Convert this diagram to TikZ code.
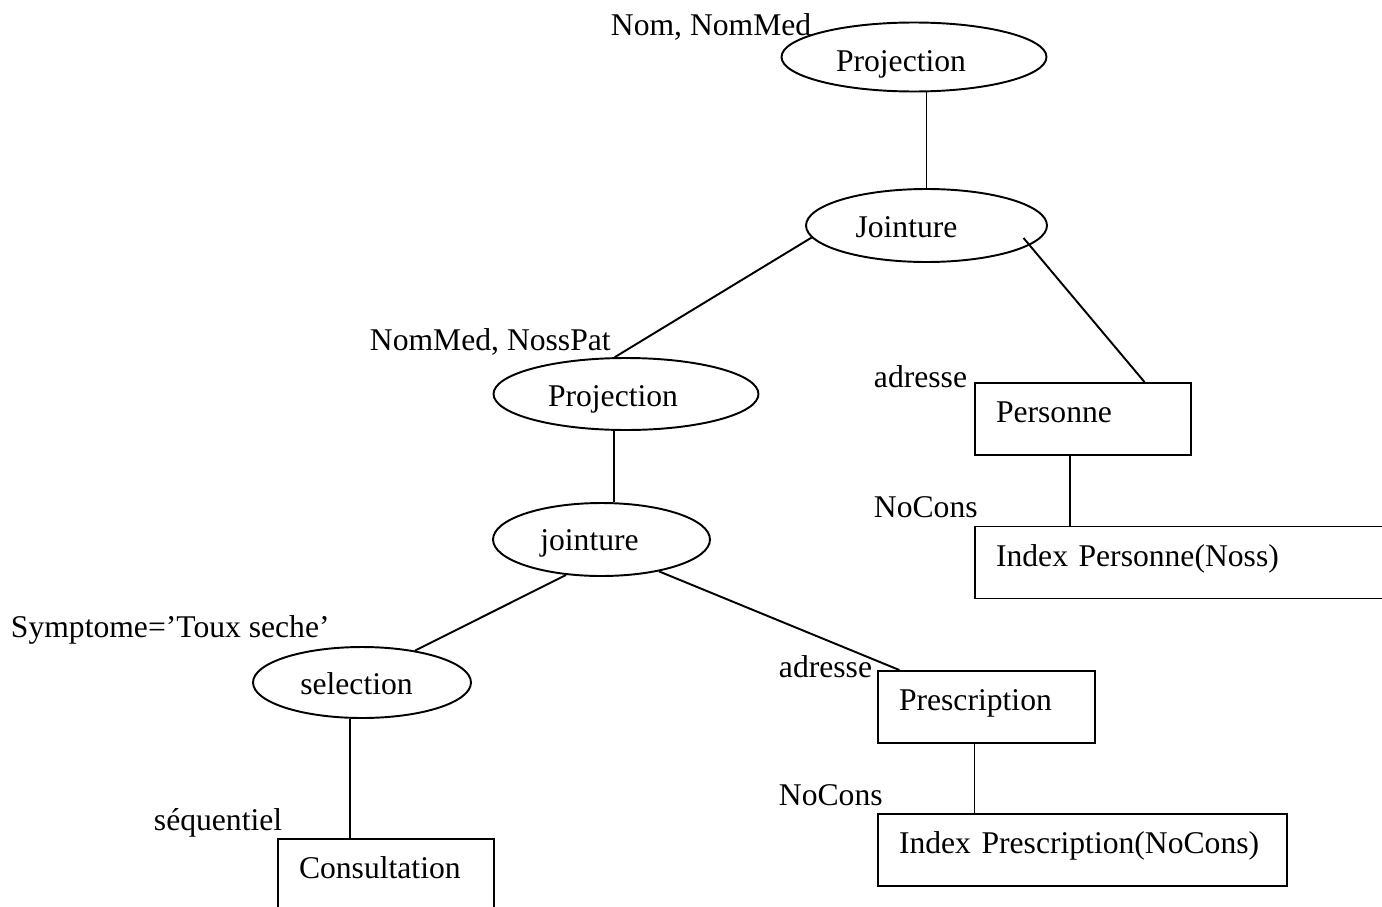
\documentclass[tikz,border=0pt]{standalone}
\usepackage{fontspec}
\setmainfont{Liberation Serif}
\usetikzlibrary{shapes.geometric}

\begin{document}
\begin{tikzpicture}[
        x=0.02cm, y=-0.02cm,
        font=\fontsize{18}{21.6}\selectfont,
        line width=1.1pt,
        op/.style={ellipse, draw, inner sep=0pt},
        optext/.style={anchor=base, inner sep=0pt},
        rel/.style={rectangle, draw, inner xsep=0.42cm, inner ysep=0pt, minimum height=1.44cm,
            text height=0.7em, text depth=0.25em, align=left},
        ann/.style={anchor=base west, inner sep=0pt}
    ]

    % Frame of the page (the lowest box runs off the edge)
    \useasboundingbox (0,0) rectangle (1382,906);
    \clip (0,0) rectangle (1382,906);

    % --- Operators (ellipses, names set a bit left of centre) ---
    \node[op, minimum width=5.3cm, minimum height=1.38cm] (projTop) at (914,57) {};
    \node[optext] (tProjTop) at (901,71) {Projection};
    \node[op, minimum width=4.82cm, minimum height=1.46cm] (joinTop) at (926.5,225.5) {};
    \node[optext] (tJoinTop) at (906.5,237) {Jointure};
    \node[op, minimum width=5.3cm, minimum height=1.44cm] (projMid) at (626,394) {};
    \node[optext] (tProjMid) at (613,406.5) {Projection};
    \node[op, minimum width=4.34cm, minimum height=1.46cm] (joinMid) at (601.5,539.5) {};
    \node[optext] (tJoinMid) at (589.5,550) {jointure};
    \node[op, minimum width=4.36cm, minimum height=1.42cm] (selec) at (362,682.5) {};
    \node[optext] (tSelec) at (356.5,694) {selection};

    % --- Relations and indexes (boxes) ---
    \node[rel, text width=3.48cm] (personne) at (1083,419) {Personne};
    \node[rel, text width=7.34cm] (idxPers) at (1179.5,562.5) {Index Personne(Noss)};
    \node[rel, text width=3.5cm] (prescr) at (986.5,707) {Prescription};
    \node[rel, text width=7.34cm] (idxPresc) at (1082.5,850) {Index Prescription(NoCons)};
    \node[rel, text width=3.48cm] (consult) at (386,875) {Consultation};

    % --- Annotations ---
    \node[ann] (lProjTop) at (610,35) {Nom, NomMed};
    \node[ann] (lProjMid) at (369,350) {NomMed, NossPat};
    \node[ann] (lPers) at (873,387) {adresse};
    \node[ann] (lIdxPers) at (873,517) {NoCons};
    \node[ann] (lSelec) at (10,637) {Symptome=’Toux seche’};
    \node[ann] (lConsult) at (153,830) {séquentiel};
    \node[ann] (lPrescr) at (778,677) {adresse};
    \node[ann] (lIdxPresc) at (778,805) {NoCons};

    % --- Tree edges ---
    \draw (joinTop.north |- projTop.south) -- (joinTop.north);
    \draw (joinTop.186) -- (projMid.107);
    \draw ([shift={(97,12.5)}]joinTop.center) -- (personne.31);
    \draw (projMid.252) -- (projMid.252 |- joinMid.north);
    \draw (joinMid.225) -- (selec.31);
    \draw (joinMid.-29) -- (prescr.157);
    \draw (personne.250) -- (personne.250 |- idxPers.north);
    \draw (selec.251) -- (selec.251 |- consult.north);
    \draw (prescr.252) -- (prescr.252 |- idxPresc.north);

\end{tikzpicture}
\end{document}
